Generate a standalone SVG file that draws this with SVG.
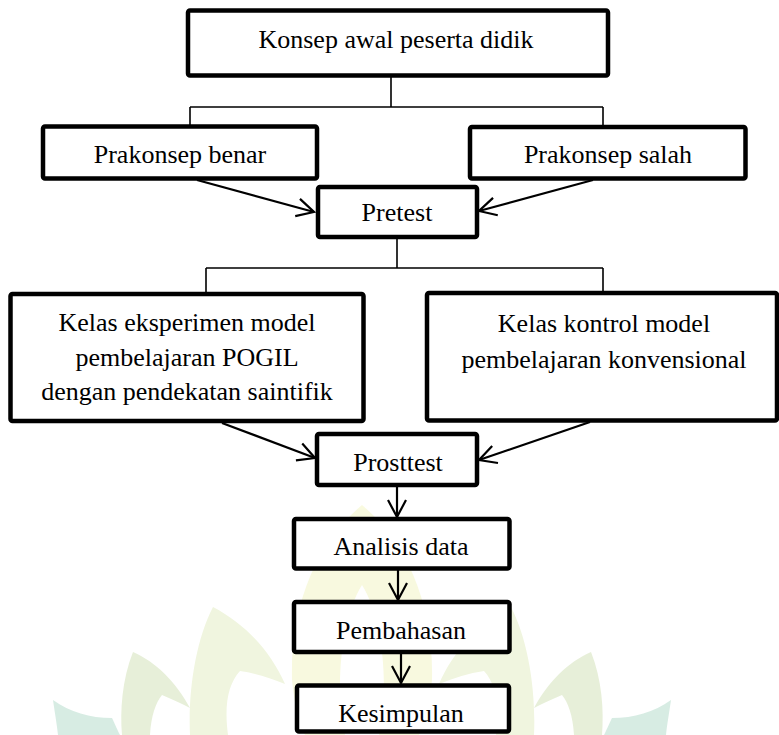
<svg xmlns="http://www.w3.org/2000/svg" width="779" height="735" viewBox="0 0 779 735">
<defs>
<style>
.box{fill:#fff;stroke:#000;stroke-width:4.5;stroke-linejoin:round}
.lbl{font-family:"Liberation Serif","Times New Roman",serif;font-size:26px;fill:#000;text-anchor:middle}
.ln{fill:none;stroke:#000;stroke-width:1.6}
.ar{fill:none;stroke:#000;stroke-width:2.2;marker-end:url(#ah)}
</style>
<marker id="ah" markerUnits="userSpaceOnUse" markerWidth="24" markerHeight="24" viewBox="-20 -12 24 24" refX="0" refY="0" orient="auto" overflow="visible">
<path d="M-17,-9 L0,0 L-17,9" fill="none" stroke="#000" stroke-width="2.2" stroke-linejoin="miter"/>
</marker>
</defs>
<rect width="779" height="735" fill="#fff"/>
<g id="watermark" opacity="0.9">
<path d="M213,607 C196,640 188,690 190,735 L228,735 C224,705 228,684 240,671 C255,673 270,678 285,684 C270,650 245,624 213,607 Z" fill="#eff5dc"/>
<path d="M133,652 C122,680 120,710 122,735 L150,735 C151,716 156,702 162,695 C172,699 182,704 190,708 C176,682 156,662 133,652 Z" fill="#e5eed5"/>
<path d="M53,700 C55,714 57,725 58,735 L120,735 C116,727 114,722 112,718 C90,718 70,712 53,700 Z" fill="#d3ebe1"/>
<path d="M511,607 C528,640 536,690 534,735 L496,735 C500,705 496,684 484,671 C469,673 454,678 439,684 C454,650 479,624 511,607 Z" fill="#eff5dc"/>
<path d="M591,652 C602,680 604,710 602,735 L574,735 C573,716 568,702 562,695 C552,699 542,704 534,708 C548,682 568,662 591,652 Z" fill="#e5eed5"/>
<path d="M671,700 C669,714 667,725 666,735 L604,735 C608,727 610,722 612,718 C634,718 654,712 671,700 Z" fill="#d3ebe1"/>
<path d="M362,505 C320,540 290,600 292,680 C295,710 300,725 305,735 L345,735 C335,690 340,620 362,585 C384,620 389,690 379,735 L419,735 C424,725 429,710 432,680 C434,600 404,540 362,505 Z" fill="#f8f9dc"/>
</g>
<g id="connectors">
<path class="ln" d="M391,77 V107 M190,107 H603 M190,107 V125 M603,107 V125"/>
<path class="ln" d="M397,239 V268 M206,268 H603 M206,268 V292 M603,268 V291"/>
<line class="ar" x1="197" y1="180" x2="314" y2="212"/>
<line class="ar" x1="593" y1="180" x2="479" y2="211"/>
<line class="ar" x1="222" y1="423" x2="315" y2="458"/>
<line class="ar" x1="590" y1="422" x2="479" y2="460"/>
<line class="ar" x1="397" y1="486" x2="397" y2="517"/>
<line class="ar" x1="398" y1="569" x2="398" y2="600"/>
<line class="ar" x1="401" y1="653" x2="401" y2="683"/>
</g>
<g id="n-konsep"><rect class="box" x="188" y="10.5" width="420" height="65" rx="2"/><text class="lbl" x="396" y="48">Konsep awal peserta didik</text></g>
<g id="n-benar"><rect class="box" x="43" y="126.5" width="274" height="52" rx="2"/><text class="lbl" x="180" y="163">Prakonsep benar</text></g>
<g id="n-salah"><rect class="box" x="470" y="127" width="275.5" height="51.5" rx="2"/><text class="lbl" x="608" y="163">Prakonsep salah</text></g>
<g id="n-pretest"><rect class="box" x="318" y="187" width="159" height="50" rx="2"/><text class="lbl" x="397" y="221">Pretest</text></g>
<g id="n-eksperimen"><rect class="box" x="10.5" y="294" width="353" height="127" rx="2"/><text class="lbl" x="187" y="331">Kelas eksperimen model</text><text class="lbl" x="187" y="366">pembelajaran POGIL</text><text class="lbl" x="187" y="400">dengan pendekatan saintifik</text></g>
<g id="n-kontrol"><rect class="box" x="427" y="293" width="350" height="127.5" rx="2"/><text class="lbl" x="604" y="332">Kelas kontrol model</text><text class="lbl" x="604" y="368">pembelajaran konvensional</text></g>
<g id="n-posttest"><rect class="box" x="317" y="434" width="160" height="51" rx="2"/><text class="lbl" x="398" y="471">Prosttest</text></g>
<g id="n-analisis"><rect class="box" x="294" y="519" width="215.5" height="49.5" rx="2"/><text class="lbl" x="401" y="555">Analisis data</text></g>
<g id="n-pembahasan"><rect class="box" x="294" y="602" width="215.5" height="50" rx="2"/><text class="lbl" x="401" y="639">Pembahasan</text></g>
<g id="n-kesimpulan"><rect class="box" x="297" y="685.5" width="212" height="46" rx="2"/><text class="lbl" x="401" y="722">Kesimpulan</text></g>
</svg>
